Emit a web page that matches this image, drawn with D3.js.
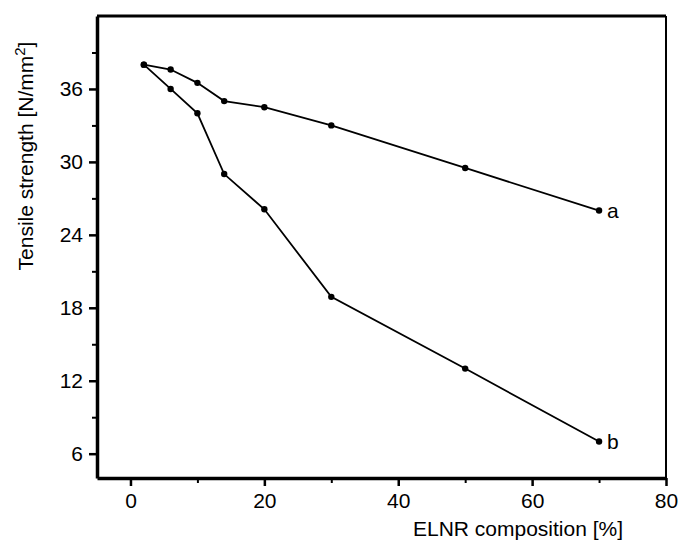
<!DOCTYPE html>
<html><head><meta charset="utf-8">
<script src="https://cdn.jsdelivr.net/npm/d3@7"></script>
<style>body{margin:0;background:#fff}svg{display:block}</style>
</head><body>
<svg id="c" width="680" height="542"></svg>
<script>
const composition = [2, 6, 10, 14, 20, 30, 50, 70];
const seriesA = [38.0, 37.6, 36.5, 35.0, 34.5, 33.0, 29.5, 26.0];
const seriesB = [38.0, 36.0, 34.0, 29.0, 26.1, 18.9, 13.0, 7.0];
const seriesNames = ["a", "b"];
const xTicks = [0, 20, 40, 60, 80];
const yTicks = [6, 12, 18, 24, 30, 36];
const xMinor = [10, 30, 50, 70];
const yMinor = [9, 15, 21, 27, 33, 39];

const svg = d3.select("#c");
const m = {l: 97, r: 14, t: 16, b: 64};
const W = 680, H = 542;
const x = d3.scaleLinear().domain([-5, 80]).range([m.l, W - m.r]);
const y = d3.scaleLinear().domain([4, 42]).range([H - m.b, m.t]);
const font = "'Liberation Sans', Arial, sans-serif";
const fs = 21;

// frame
svg.append("line").attr("x1", x(-5)).attr("x2", x(80)).attr("y1", y(42)).attr("y2", y(42)).attr("stroke", "#000").attr("stroke-width", 3);
svg.append("line").attr("x1", x(80)).attr("x2", x(80)).attr("y1", y(42)).attr("y2", y(4)).attr("stroke", "#000").attr("stroke-width", 2);

// axes
const xAxis = svg.append("g").attr("transform", `translate(0,${y(4)})`)
  .call(d3.axisBottom(x).tickValues(xTicks).tickSize(8).tickPadding(7).tickSizeOuter(0));
const yAxis = svg.append("g").attr("transform", `translate(${x(-5)},0)`)
  .call(d3.axisLeft(y).tickValues(yTicks).tickSize(8).tickPadding(6).tickSizeOuter(0));
[xAxis, yAxis].forEach(g => {
  g.select(".domain").attr("stroke-width", 3.5);
  g.selectAll(".tick line").attr("stroke-width", 2.5);
  g.selectAll("text").attr("font-family", font).attr("font-size", fs).attr("fill", "#000");
});
svg.append("g").attr("transform", `translate(0,${y(4)})`)
  .call(d3.axisBottom(x).tickValues(xMinor).tickSize(5).tickFormat(""))
  .call(g => { g.select(".domain").remove(); g.selectAll(".tick line").attr("stroke-width", 2); });
svg.append("g").attr("transform", `translate(${x(-5)},0)`)
  .call(d3.axisLeft(y).tickValues(yMinor).tickSize(5).tickFormat(""))
  .call(g => { g.select(".domain").remove(); g.selectAll(".tick line").attr("stroke-width", 2); });

// series
const series = [seriesA, seriesB];
const line = d3.line().x(d => x(d[0])).y(d => y(d[1]));
series.forEach((vals, i) => {
  const pts = composition.map((c, k) => [c, vals[k]]);
  svg.append("path").attr("d", line(pts)).attr("fill", "none").attr("stroke", "#000").attr("stroke-width", 1.8);
  svg.selectAll(null).data(pts).enter().append("circle")
    .attr("cx", d => x(d[0])).attr("cy", d => y(d[1])).attr("r", 3.2).attr("fill", "#000");
  const last = pts[pts.length - 1];
  svg.append("text").attr("x", x(last[0]) + 8).attr("y", y(last[1]) + 7)
    .attr("font-family", font).attr("font-size", fs).text(seriesNames[i]);
});

// titles
svg.append("text").attr("x", 518).attr("y", 536).attr("text-anchor", "middle")
  .attr("font-family", font).attr("font-size", fs).text("ELNR composition [%]");
const yt = svg.append("text").attr("transform", `translate(33,156) rotate(-90)`).attr("text-anchor", "middle")
  .attr("font-family", font).attr("font-size", fs);
yt.append("tspan").text("Tensile strength [N/mm");
yt.append("tspan").attr("dy", -8).attr("font-size", 15).text("2");
yt.append("tspan").attr("dy", 8).text("]");
</script>
</body></html>
